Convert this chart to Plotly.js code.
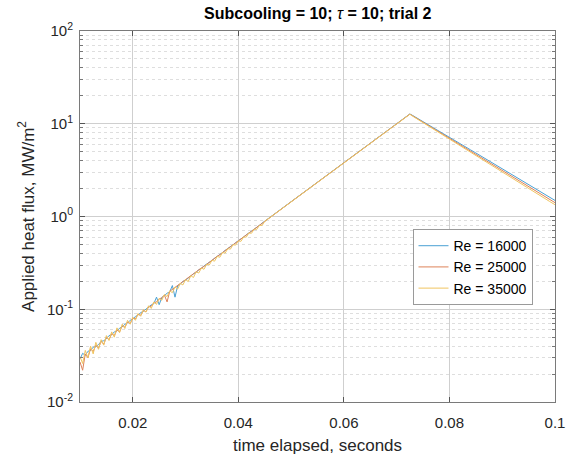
<!DOCTYPE html>
<html>
<head>
<meta charset="utf-8">
<script src="https://cdn.plot.ly/plotly-3.0.1.min.js"></script>
<style>html,body{margin:0;padding:0;background:#fff;}#chart{width:569px;height:457px;}</style>
</head>
<body>
<div id="chart"></div>
<script>
// time elapsed, seconds
const timeSec = [
0.0100,0.0105,0.0110,0.0115,0.0120,0.0125,0.0130,0.0135,0.0140,0.0145,
0.0150,0.0155,0.0160,0.0165,0.0170,0.0175,0.0180,0.0185,0.0190,0.0195,
0.0200,0.0205,0.0210,0.0215,0.0220,0.0225,0.0230,0.0235,0.0240,0.0245,
0.0250,0.0255,0.0260,0.0265,0.0270,0.0275,0.0280,0.0285,0.0290,0.0295,
0.0300,0.0305,0.0310,0.0315,0.0320,0.0325,0.0330,0.0335,0.0340,0.0345,
0.0350,0.0355,0.0360,0.0365,0.0370,0.0375,0.0380,0.0385,0.0390,0.0395,
0.0400,0.0405,0.0410,0.0415,0.0420,0.0425,0.0430,0.0435,0.0440,0.0445,
0.0450,
0.046,0.047,0.048,0.049,0.050,0.051,0.052,0.053,0.054,0.055,
0.056,0.057,0.058,0.059,0.060,0.061,0.062,0.063,0.064,0.065,
0.066,0.067,0.068,0.069,0.070,0.071,0.072,
0.0725,
0.073,0.074,0.075,0.076,0.077,0.078,0.079,0.080,0.081,0.082,
0.083,0.084,0.085,0.086,0.087,0.088,0.089,0.090,0.091,0.092,
0.093,0.094,0.095,0.096,0.097,0.098,0.099,0.100
];

// Applied heat flux, MW/m^2
const fluxRe16000 = [
0.0290,0.0335,0.0318,0.0352,0.0360,0.0390,0.0395,0.0415,0.0450,0.0458,
0.0480,0.0520,0.0530,0.0570,0.0585,0.0625,0.0645,0.0690,0.0710,0.0760,
0.0785,0.0835,0.0865,0.0920,0.0950,0.1010,0.1050,0.1115,0.1150,0.1350,
0.1120,0.1340,0.1400,0.1490,0.1540,0.1800,0.1350,0.1790,0.1870,0.1990,
0.2060,0.2190,0.2280,0.2410,0.2500,0.2660,0.2760,0.2930,0.3050,0.3220,
0.3360,0.3550,0.3700,0.3910,0.4080,0.4310,0.4490,0.4750,0.4950,0.5230,
0.5450,0.5760,0.6010,0.6340,0.6620,0.6990,0.7290,0.7700,0.8030,0.8480,
0.8850,
0.980,1.080,1.190,1.310,1.445,1.590,1.752,1.930,2.126,2.342,
2.580,2.842,3.130,3.450,3.800,4.186,4.610,5.080,5.596,6.165,
6.790,7.480,8.240,9.078,10.00,11.01,12.13,
12.75,
12.30,11.40,10.55,9.76,9.03,8.35,7.73,7.15,6.61,6.12,
5.65,5.23,4.84,4.47,4.14,3.83,3.54,3.27,3.03,2.80,
2.59,2.40,2.22,2.05,1.90,1.75,1.62,1.49
];

const fluxRe25000 = [
0.0270,0.0220,0.0330,0.0300,0.0375,0.0350,0.0410,0.0380,0.0450,0.0420,
0.0500,0.0470,0.0545,0.0520,0.0600,0.0570,0.0665,0.0640,0.0730,0.0700,
0.0800,0.0790,0.0880,0.0860,0.0970,0.0940,0.1060,0.1080,0.1170,0.1200,
0.1290,0.1330,0.1420,0.1200,0.1560,0.1640,0.1720,0.1800,0.1890,0.2000,
0.2090,0.2180,0.2300,0.2400,0.2530,0.2650,0.2790,0.2900,0.3060,0.3200,
0.3380,0.3530,0.3720,0.3880,0.4100,0.4280,0.4510,0.4720,0.4970,0.5200,
0.5470,0.5720,0.6020,0.6300,0.6630,0.6940,0.7300,0.7650,0.8050,0.8420,
0.8870,
0.9770,1.076,1.186,1.306,1.440,1.585,1.747,1.924,2.120,2.335,
2.573,2.833,3.122,3.439,3.789,4.173,4.598,5.064,5.580,6.146,
6.771,7.458,8.217,9.051,9.970,10.98,12.10,
12.70,
12.20,11.26,10.40,9.60,8.86,8.18,7.55,6.97,6.43,5.94,
5.48,5.06,4.67,4.31,3.98,3.68,3.39,3.13,2.89,2.67,
2.47,2.28,2.10,1.94,1.79,1.65,1.53,1.41
];

const fluxRe35000 = [
0.0310,0.0260,0.0360,0.0300,0.0400,0.0330,0.0440,0.0370,0.0470,0.0410,
0.0520,0.0460,0.0570,0.0500,0.0630,0.0560,0.0690,0.0620,0.0760,0.0690,
0.0820,0.0760,0.0900,0.0840,0.0990,0.0930,0.1090,0.1020,0.1200,0.1130,
0.1310,0.1250,0.1440,0.1370,0.1580,0.1510,0.1740,0.1650,0.1900,0.1830,
0.2090,0.1990,0.2300,0.2200,0.2530,0.2460,0.2780,0.2700,0.3060,0.3000,
0.3370,0.3300,0.3710,0.3640,0.4090,0.4030,0.4500,0.4450,0.4960,0.4920,
0.5460,0.5400,0.6020,0.5990,0.6630,0.6600,0.7300,0.7270,0.8040,0.8000,
0.8860,
0.9750,1.074,1.183,1.303,1.436,1.582,1.742,1.920,2.114,2.330,
2.566,2.826,3.114,3.431,3.779,4.163,4.586,5.052,5.566,6.131,
6.754,7.440,8.196,9.029,9.946,10.95,12.07,
12.65,
12.10,11.15,10.28,9.47,8.72,8.03,7.40,6.82,6.28,5.79,
5.33,4.91,4.53,4.17,3.85,3.54,3.22,3.03,2.77,2.56,
2.36,2.17,2.00,1.85,1.70,1.57,1.45,1.34
];

const seriesNames = ['Re = 16000', 'Re = 25000', 'Re = 35000'];
const seriesColors = ['#4aa0d4', '#dd8258', '#f0c560'];
const xTickVals = [0.02, 0.04, 0.06, 0.08, 0.1];
const xTickText = ['0.02', '0.04', '0.06', '0.08', '0.1'];
const yTickVals = [0.01, 0.1, 1, 10, 100];
const yTickText = ['10<sup>-2</sup>', '10<sup>-1</sup>', '10<sup>0</sup>', '10<sup>1</sup>', '10<sup>2</sup>'];
const yMinorVals = [];
[0.01, 0.1, 1, 10].forEach(d => { for (let k = 2; k <= 9; k++) yMinorVals.push(d * k); });

const seriesData = [fluxRe16000, fluxRe25000, fluxRe35000];
const traces = seriesData.map((ys, i) => ({
  x: timeSec, y: ys, type: 'scatter', mode: 'lines', name: seriesNames[i],
  line: {color: seriesColors[i], width: 1}
}));

const FONT = 'Liberation Sans, Arial, Helvetica, sans-serif';
const layout = {
  width: 569, height: 457,
  margin: {l: 80, r: 14, t: 31, b: 55},
  paper_bgcolor: '#ffffff', plot_bgcolor: '#ffffff',
  font: {family: FONT, color: '#262626', size: 15},
  showlegend: true,
  title: {
    text: '<b>Subcooling = 10; </b><i>τ</i><b> = 10; trial 2</b>',
    font: {family: FONT, size: 16, color: '#000000'},
    x: 0.5585, xanchor: 'center', y: 0.97, yanchor: 'middle'
  },
  xaxis: {
    range: [0.01, 0.1], tickvals: xTickVals, ticktext: xTickText,
    showgrid: true, gridcolor: '#cfcfcf', gridwidth: 1,
    ticks: 'inside', ticklen: 5, tickcolor: '#555555',
    showline: true, linecolor: '#7a7a7a', linewidth: 1, mirror: 'ticks',
    zeroline: false, tickfont: {size: 15, color: '#262626'}, ticklabelstandoff: 7,
    title: {text: 'time elapsed, seconds', font: {size: 17, color: '#262626'}, standoff: 9}
  },
  yaxis: {
    type: 'log', range: [-2, 2], tickvals: yTickVals, ticktext: yTickText,
    showgrid: true, gridcolor: '#cfcfcf', gridwidth: 1,
    ticks: 'inside', ticklen: 5, tickcolor: '#555555',
    showline: true, linecolor: '#7a7a7a', linewidth: 1, mirror: 'ticks',
    zeroline: false, tickfont: {size: 15, color: '#262626'}, ticklabelstandoff: 3,
    minor: {tickmode: 'array', tickvals: yMinorVals, showgrid: true, gridcolor: '#dedede',
            griddash: '3px,3px', ticks: 'inside', ticklen: 3, tickcolor: '#777777'},
    title: {text: 'Applied heat flux, MW/m<sup>2</sup>', font: {size: 17, color: '#262626'}, standoff: 8}
  },
  legend: {
    x: 0.70, y: 0.466, xanchor: 'left', yanchor: 'top',
    bgcolor: '#ffffff', bordercolor: '#9a9a9a', borderwidth: 1,
    font: {size: 14, color: '#000000'}, tracegroupgap: 0, itemwidth: 30
  }
};

Plotly.newPlot('chart', traces, layout, {displayModeBar: false, staticPlot: true});
</script>
</body>
</html>
